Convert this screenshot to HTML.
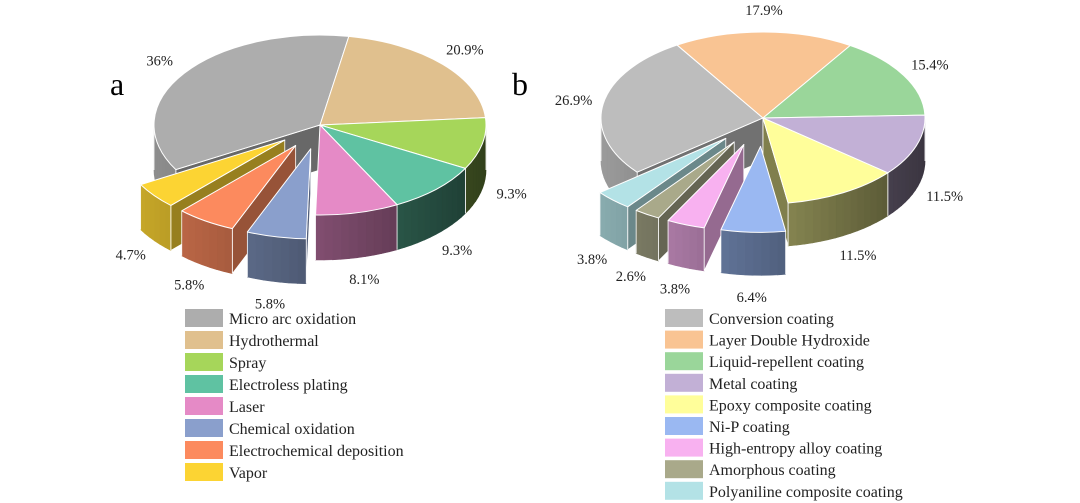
<!DOCTYPE html>
<html><head><meta charset="utf-8">
<style>
html,body{margin:0;padding:0;background:#fff;}
svg{display:block;font-family:"Liberation Serif",serif;}
</style></head>
<body>
<svg id="chart" width="1080" height="503" viewBox="0 0 1080 503" xmlns="http://www.w3.org/2000/svg">
<text x="110" y="95" font-size="32">a</text>
<text x="512" y="95" font-size="32">b</text>
</svg>
<script>
// ---- Chart a data ----
const catsA = ["Micro arc oxidation","Hydrothermal","Spray","Electroless plating","Laser","Chemical oxidation","Electrochemical deposition","Vapor"];
const valsA = [36, 20.9, 9.3, 9.3, 8.1, 5.8, 5.8, 4.7];
const lblsA = ["36%","20.9%","9.3%","9.3%","8.1%","5.8%","5.8%","4.7%"];
const explA = [0,0,0,0,0,1,1,1];
const colsA = ["#adadad","#e0c08e","#a6d65a","#5fc2a2","#e58ac6","#8a9fcc","#fc8a5e","#fcd433"];
// ---- Chart b data ----
const catsB = ["Conversion coating","Layer Double Hydroxide","Liquid-repellent coating","Metal coating","Epoxy composite coating","Ni-P coating","High-entropy alloy coating","Amorphous coating","Polyaniline composite coating"];
const valsB = [26.9, 17.9, 15.4, 11.5, 11.5, 6.4, 3.8, 2.6, 3.8];
const lblsB = ["26.9%","17.9%","15.4%","11.5%","11.5%","6.4%","3.8%","2.6%","3.8%"];
const explB = [0,0,0,0,0,1,1,1,1];
const colsB = ["#bdbdbd","#f9c493","#9ad69a","#c2b0d6","#fffe9a","#9ab8f2","#f8b1f0","#a9a98a","#b3e2e6"];

const svg = document.getElementById('chart');
const NS = "http://www.w3.org/2000/svg";
function mk(tag, attrs, parent){
  const e = document.createElementNS(NS, tag);
  for (const k in attrs) e.setAttribute(k, attrs[k]);
  (parent||svg).appendChild(e);
  return e;
}
function shade(hex, f){
  const n = parseInt(hex.slice(1),16);
  const r=Math.round(((n>>16)&255)*f), g=Math.round(((n>>8)&255)*f), b=Math.round((n&255)*f);
  return `rgb(${r},${g},${b})`;
}
const rad = d => d*Math.PI/180;

function drawPie(cfg, cats, vals, lbls, expl, cols, key){
  const {cx, cy, rx, ry, dep, begin, k} = cfg;
  const total = vals.reduce((a,b)=>a+b,0);
  const N = vals.length;
  const g = mk('g', {});
  
  
  let a = begin;
  const slices = vals.map((v,i)=>{
    const a1 = a, a2 = a + v/total*360; a = a2;
    const mid = (a1+a2)/2;
    const ox = expl[i] ? k*rx*Math.cos(rad(mid)) : 0;
    const oy = expl[i] ? k*ry*Math.sin(rad(mid)) : 0;
    return {i, a1, a2, mid, ox, oy};
  });
  const P = (s,t,dz)=>[cx+s.ox+rx*Math.cos(rad(t)), cy+s.oy+ry*Math.sin(rad(t))+(dz||0)];
  const C = (s,dz)=>[cx+s.ox, cy+s.oy+(dz||0)];
  function faces(s, parent){
    const col = cols[s.i];
    const prevEx = expl[(s.i-1+N)%N], nextEx = expl[(s.i+1)%N];
    const own = expl[s.i];
    const c0=C(s), c1=C(s,dep);
    if (Math.cos(rad(s.a1)) < 0 && (own || prevEx)){
      const p=P(s,s.a1), q=P(s,s.a1,dep);
      const f = mk('path',{d:`M${c0}L${p}L${q}L${c1}Z`,fill:shade(col,0.6),stroke:'#fff','stroke-width':0.8,'stroke-linejoin':'round'},parent);
      
      
    }
    if (Math.cos(rad(s.a2)) > 0 && (own || nextEx)){
      const p=P(s,s.a2), q=P(s,s.a2,dep);
      const f = mk('path',{d:`M${c0}L${p}L${q}L${c1}Z`,fill:shade(col,0.5),stroke:'#fff','stroke-width':0.8,'stroke-linejoin':'round'},parent);
      
      
    }
  }
  function wall(s, parent){
    const col = cols[s.i];
    for (let off=-360; off<=360; off+=360){
      const u = Math.max(s.a1+off, 0), v = Math.min(s.a2+off, 180);
      if (v <= u) continue;
      const n = Math.max(1, Math.ceil((v-u)/3));
      for (let j=0;j<n;j++){
        const t1 = u+(v-u)*j/n, t2 = u+(v-u)*(j+1)/n;
        const tm = (t1+t2)/2;
        const f = 0.56 - 0.26*Math.cos(rad(tm));
        const w = mk('path',{d:`M${P(s,t1-off)}L${P(s,t2-off)}L${P(s,t2-off,dep)}L${P(s,t1-off,dep)}Z`,fill:shade(col,f),stroke:shade(col,f),'stroke-width':0.6},parent);
        
        
      }
      mk('line',{x1:P(s,u-off)[0],y1:P(s,u-off)[1],x2:P(s,u-off,dep)[0],y2:P(s,u-off,dep)[1],stroke:'#fff','stroke-width':0.8},parent);
      mk('line',{x1:P(s,v-off)[0],y1:P(s,v-off)[1],x2:P(s,v-off,dep)[0],y2:P(s,v-off,dep)[1],stroke:'#fff','stroke-width':0.8},parent);
    }
  }
  function top(s, parent){
    const p1=P(s,s.a1), p2=P(s,s.a2), c=C(s);
    const large = (s.a2-s.a1)>180?1:0;
    const t = mk('path',{d:`M${c}L${p1}A${rx},${ry} 0 ${large} 1 ${p2}Z`,fill:cols[s.i],stroke:'#fff','stroke-width':1,'stroke-linejoin':'round'},parent);
    
    
  }
  const main = slices.filter(s=>!expl[s.i]);
  main.forEach(s=>faces(s,g));
  main.forEach(s=>wall(s,g));
  main.forEach(s=>top(s,g));
  const ex = slices.filter(s=>expl[s.i]).sort((p,q)=>Math.abs(Math.sin(rad(p.mid)))-Math.abs(Math.sin(rad(q.mid))));
  ex.forEach(s=>{ faces(s,g); wall(s,g); top(s,g); });
  slices.forEach(s=>{
    const c = Math.cos(rad(s.mid)), sn = Math.sin(rad(s.mid));
    const x = cx + s.ox + (rx+30)*c;
    const y = cy + s.oy + (ry+22)*sn + (sn>0?dep:0) + 5;
    const t = mk('text',{x:x, y:y, 'font-size':14.5, 'text-anchor':'middle', fill:'#222'});
    t.textContent = lbls[s.i];
    
    
  });
}

function drawLegend(cats, cols, x, y0, pitch, key){
  const g = mk('g', {});
  
  
  cats.forEach((c,i)=>{
    const y = y0 + i*pitch;
    const r = mk('rect',{x:x, y:y, width:38, height:18, fill:cols[i]}, g);
    
    
    const t = mk('text',{x:x+44, y:y+15, 'font-size':16, fill:'#222'}, g);
    t.textContent = c;
    
    
  });
}

drawPie({cx:320, cy:125, rx:166, ry:90, dep:45, begin:-80-valsA[0]/valsA.reduce((a,b)=>a+b,0)*360, k:0.27},
  catsA, valsA, lblsA, explA, colsA, 'chart-a');
drawPie({cx:763, cy:118, rx:162, ry:86, dep:43, begin:-122-valsB[0]/valsB.reduce((a,b)=>a+b,0)*360, k:0.33},
  catsB, valsB, lblsB, explB, colsB, 'chart-b');
drawLegend(catsA, colsA, 185, 309, 22, 'chart-a');
drawLegend(catsB, colsB, 665, 309, 21.6, 'chart-b');
</script>
</body></html>
